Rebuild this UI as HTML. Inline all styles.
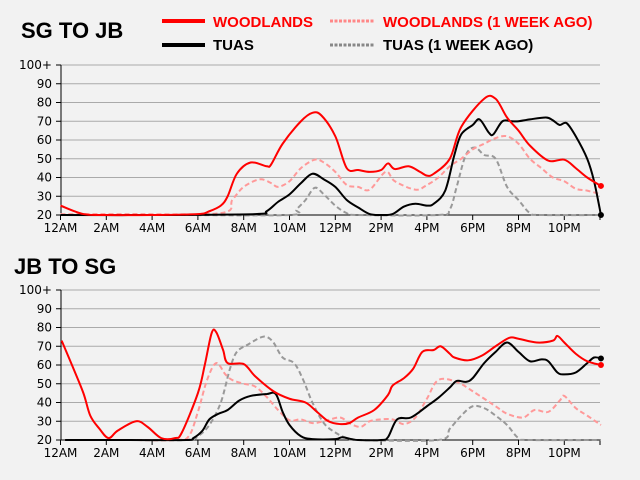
<!DOCTYPE html>
<html><head><meta charset="utf-8"><style>
body{margin:0;background:#f2f2f2;}
svg{display:block;font-family:"DejaVu Sans","Liberation Sans",sans-serif;}
.t{font-family:"Liberation Sans",sans-serif;font-weight:bold;}
</style></head><body>
<svg id="s" width="640" height="480" viewBox="0 0 640 480">
<rect width="640" height="480" fill="#f2f2f2"/>
<text x="21" y="38" class="t" font-size="22" fill="#000">SG TO JB</text>
<text x="14" y="274" class="t" font-size="22" fill="#000">JB TO SG</text>
<line x1="162" y1="21" x2="205" y2="21" stroke="#f00" stroke-width="4"/>
<text x="213" y="27" class="t" font-size="15" fill="#f00">WOODLANDS</text>
<line x1="330" y1="21" x2="374" y2="21" stroke="#f88" stroke-width="3" stroke-dasharray="3,1.5"/>
<text x="383" y="27" class="t" font-size="15" fill="#f00">WOODLANDS (1 WEEK AGO)</text>
<line x1="162" y1="45" x2="205" y2="45" stroke="#000" stroke-width="4"/>
<text x="213" y="50" class="t" font-size="15" fill="#000">TUAS</text>
<line x1="330" y1="45" x2="374" y2="45" stroke="#888" stroke-width="3" stroke-dasharray="3,1.5"/>
<text x="383" y="50" class="t" font-size="15" fill="#000">TUAS (1 WEEK AGO)</text>
<g id="g"></g>
</svg>
<script>
var NS="http://www.w3.org/2000/svg",g=document.getElementById('g');
function el(t,a,txt){var e=document.createElementNS(NS,t);for(var k in a)e.setAttribute(k,a[k]);if(txt!=null)e.textContent=txt;g.appendChild(e);return e;}
function X(h){return 60.5+h*22.9;}
function path(pts,Y){var p=pts.map(function(q){return [X(q[0]),Y(q[1])];});var d="M"+p[0][0]+","+p[0][1];
for(var i=0;i<p.length-1;i++){var p0=p[i-1]||p[i],p1=p[i],p2=p[i+1],p3=p[i+2]||p2;
d+=" C"+(p1[0]+(p2[0]-p0[0])/6)+","+(p1[1]+(p2[1]-p0[1])/6)+" "+(p2[0]-(p3[0]-p1[0])/6)+","+(p2[1]-(p3[1]-p1[1])/6)+" "+p2[0]+","+p2[1];}return d;}
function chart(base,series,dots){
 var Y=function(v){return base-(v-20)*1.875;};
 for(var v=30;v<=100;v+=10){el('line',{x1:61,x2:600,y1:Y(v),y2:Y(v),stroke:'#aaa','stroke-width':1});}
 for(var v=20;v<=100;v+=10){el('line',{x1:56,x2:61,y1:Y(v),y2:Y(v),stroke:'#000'});
  el('text',{x:52,y:Y(v)+4,'font-size':12,'text-anchor':'end'},v==100?'100+':v);}
 el('line',{x1:61,x2:61,y1:Y(100),y2:base,stroke:'#000'});
 el('line',{x1:60.5,x2:600,y1:base,y2:base,stroke:'#000'});
 var labs=['12AM','2AM','4AM','6AM','8AM','10AM','12PM','2PM','4PM','6PM','8PM','10PM'];
 for(var i=0;i<12;i++){var x=X(i*2);el('line',{x1:x,x2:x,y1:base,y2:base+5,stroke:'#000'});el('text',{x:x,y:base+17,'font-size':12,'text-anchor':'middle'},labs[i]);}
 el('line',{x1:600,x2:600,y1:base,y2:base+5,stroke:'#000'});
 series.forEach(function(s){el('path',{d:path(s[0],Y),fill:'none',stroke:s[1],'stroke-width':2,'stroke-dasharray':s[2]||'none'});});
 dots.forEach(function(d){el('circle',{cx:X(23.6),cy:Y(d[0]),r:3,fill:d[1]});});
}
var A=[[0,25],[1,20.5],[2,20],[4,20],[6,20.5],[6.5,22],[7,25],[7.3,30],[7.7,42],[8.3,48],[9,46],[9.2,47],[9.7,58],[10.5,70],[11,74.5],[11.4,73],[12,62],[12.5,45],[13,44],[13.5,43],[14,44],[14.3,47.5],[14.6,44.5],[15.2,46],[15.7,43],[16,41],[16.3,42],[17,50],[17.5,67],[18.5,82],[19,82],[19.5,72],[20,65],[20.5,57],[21.3,49],[22,49.5],[22.5,45],[23,40],[23.6,35.5]];
var B=[[0,20.5],[3,20.5],[7,21],[7.5,28],[8,35],[8.7,39],[9.2,37],[9.5,35],[10,38],[10.5,45],[11.1,49.5],[11.5,48],[12,43],[12.5,36],[13,35],[13.5,33.5],[14.2,43],[14.6,38],[15.5,33.5],[16,36],[16.5,40],[17,46],[17.5,50],[18,55],[18.5,58],[19,61],[19.5,62],[20,58],[20.5,50],[21,45],[21.5,40],[22,38],[22.5,34],[23,33],[23.6,31]];
var C=[[0,20],[4,20],[8.5,20.5],[9,22],[9.5,27],[10,31],[10.5,37],[11,42],[11.5,39],[12,35],[12.5,28],[13,24],[13.5,20.5],[14,20],[14.5,20.5],[15,24.5],[15.5,26],[16,25],[16.3,26],[16.8,33],[17.2,52],[17.5,63],[18,68],[18.3,71],[18.7,64],[18.9,63],[19.3,70],[19.7,70],[20,70],[20.5,71],[21.2,72],[21.5,70.5],[21.8,68],[22.1,69],[22.5,62],[23,50],[23.3,38],[23.6,20]];
var D=[[0,20],[5,20],[10,20],[10.3,23],[10.7,28],[11.1,34.5],[11.5,31],[12,25],[12.5,21],[13,20],[16.5,20],[17,23],[17.3,35],[17.7,52],[18.1,56],[18.5,52],[19,50],[19.5,35],[20,28],[20.5,21],[21,20],[23.6,20]];
chart(215,[[D,'#999','5,3'],[B,'#f99','5,3'],[C,'#000'],[A,'#f00']],[[35.5,'#f00'],[20,'#000']]);
var E=[[0.05,73],[0.5,60],[1,45],[1.3,33],[1.7,26],[2.1,21],[2.5,25],[3.3,30],[3.8,27],[4.4,21],[5,21],[5.3,24],[6,45],[6.3,60],[6.6,77],[6.8,77.5],[7.1,68],[7.3,61],[8,60.5],[8.5,54],[9.3,46],[10,42],[10.7,40],[11.2,35],[11.7,30],[12.2,28.5],[12.6,29],[13,32],[13.7,36],[14.3,44],[14.5,49],[15,53],[15.4,58],[15.8,67],[16.3,68],[16.6,70],[17,66],[17.2,64],[17.8,62.5],[18.4,65],[19,70],[19.6,74.5],[20,74],[20.8,72],[21.5,73],[21.7,75.5],[22,72],[22.5,66],[23,62],[23.6,60]];
var F=[[0.2,20],[3,20],[5,20],[5.6,22],[6,35],[6.4,52],[6.8,61],[7.2,55],[7.5,52],[8,50],[8.5,48.5],[9,43],[9.5,36],[10,30.5],[10.5,31],[11,29],[11.5,30],[12.2,32],[12.6,29],[13.1,27],[13.5,30],[14,31],[14.5,31],[15,28.5],[15.5,32],[16,42],[16.5,52],[17.3,51],[18,46],[19,38],[19.5,34],[20.2,32],[20.7,36],[21.3,35],[21.8,41],[22,43.5],[22.5,37],[23,33],[23.6,28]];
var G=[[0.2,20],[3,20],[5.5,20],[5.8,21],[6.2,25],[6.5,31],[6.9,34],[7.3,36],[7.8,41],[8.3,43.5],[9,44.5],[9.4,44.5],[9.7,35],[10,28],[10.5,22],[11,20.5],[12,20.5],[12.3,21.5],[12.7,20.5],[13,20],[14,20],[14.3,21.5],[14.7,31],[15.3,32],[16,38],[16.5,42.5],[17,48],[17.3,51.5],[17.7,51],[18,53],[18.5,61],[19,67],[19.5,72],[20,67],[20.5,62],[21,63],[21.3,62],[21.7,56],[22,55],[22.5,56],[23,61],[23.3,64],[23.6,63.5]];
var H=[[0.2,20],[3,20],[5.5,20],[6,22],[6.5,28],[7,40],[7.4,58],[7.7,67],[8.2,71],[8.7,74.5],[9,75],[9.3,72],[9.7,64],[10.2,61],[10.6,52],[11,40],[11.5,29],[12,24],[12.5,21],[13,20],[16.5,20],[17,26],[17.5,33],[18,38],[18.5,37],[19,33],[19.5,28],[20,21],[20.5,20],[23.6,20]];
chart(440,[[H,'#999','5,3'],[F,'#f99','5,3'],[G,'#000'],[E,'#f00']],[[63.5,'#000'],[60,'#f00']]);
</script>
</body></html>
